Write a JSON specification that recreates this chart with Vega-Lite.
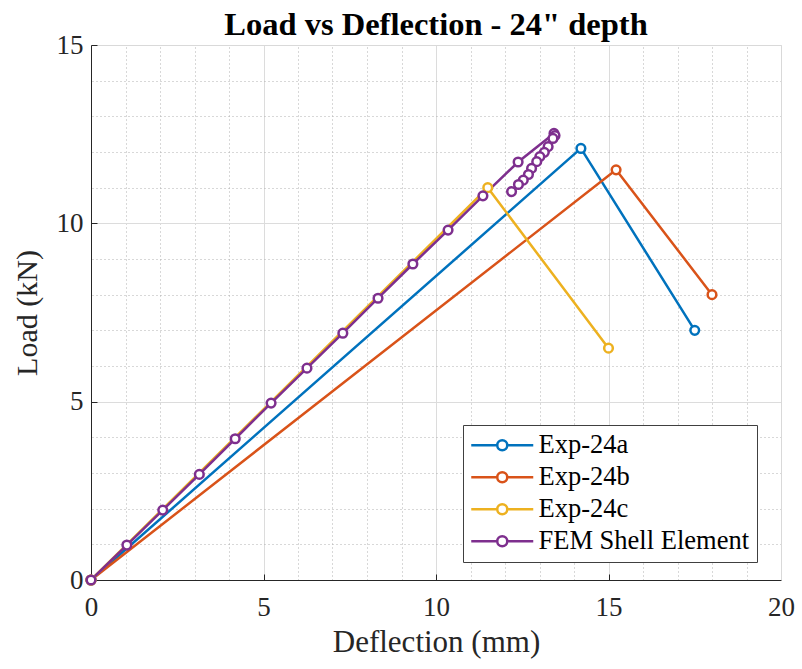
{
  "$schema": "https://vega.github.io/schema/vega-lite/v6.json",
  "width": 690,
  "height": 535,
  "autosize": {"type": "none"},
  "padding": {"left": 91, "top": 45, "right": 21, "bottom": 89},
  "background": "white",
  "title": {"text": "Load vs Deflection - 24\" depth", "font": "Liberation Serif", "fontSize": 32.5, "fontWeight": "bold", "color": "#000000", "offset": -36, "baseline": "alphabetic", "anchor": "middle"},
  "config": {
    "view": {"stroke": null},
    "font": "Liberation Serif"
  },
  "data": {"values": [
    {"s": "Exp-24a", "i": 0, "d": 0, "load": 0},
    {"s": "Exp-24a", "i": 1, "d": 14.2, "load": 12.1},
    {"s": "Exp-24a", "i": 2, "d": 17.5, "load": 7.0},
    {"s": "Exp-24b", "i": 0, "d": 0, "load": 0},
    {"s": "Exp-24b", "i": 1, "d": 15.22, "load": 11.5},
    {"s": "Exp-24b", "i": 2, "d": 18.0, "load": 8.0},
    {"s": "Exp-24c", "i": 0, "d": 0, "load": 0},
    {"s": "Exp-24c", "i": 1, "d": 11.5, "load": 11.0},
    {"s": "Exp-24c", "i": 2, "d": 15.0, "load": 6.5},
    {"s": "FEM Shell Element", "i": 0, "d": 0, "load": 0},
    {"s": "FEM Shell Element", "i": 1, "d": 1.04, "load": 0.98},
    {"s": "FEM Shell Element", "i": 2, "d": 2.08, "load": 1.96},
    {"s": "FEM Shell Element", "i": 3, "d": 3.14, "load": 2.96},
    {"s": "FEM Shell Element", "i": 4, "d": 4.18, "load": 3.96},
    {"s": "FEM Shell Element", "i": 5, "d": 5.22, "load": 4.96},
    {"s": "FEM Shell Element", "i": 6, "d": 6.26, "load": 5.94},
    {"s": "FEM Shell Element", "i": 7, "d": 7.3, "load": 6.92},
    {"s": "FEM Shell Element", "i": 8, "d": 8.32, "load": 7.9},
    {"s": "FEM Shell Element", "i": 9, "d": 9.33, "load": 8.86},
    {"s": "FEM Shell Element", "i": 10, "d": 10.35, "load": 9.81},
    {"s": "FEM Shell Element", "i": 11, "d": 11.36, "load": 10.77},
    {"s": "FEM Shell Element", "i": 12, "d": 12.38, "load": 11.72},
    {"s": "FEM Shell Element", "i": 13, "d": 13.42, "load": 12.52},
    {"s": "FEM Shell Element", "i": 14, "d": 13.45, "load": 12.46},
    {"s": "FEM Shell Element", "i": 15, "d": 13.39, "load": 12.38},
    {"s": "FEM Shell Element", "i": 16, "d": 13.25, "load": 12.15},
    {"s": "FEM Shell Element", "i": 17, "d": 13.14, "load": 11.99},
    {"s": "FEM Shell Element", "i": 18, "d": 13.01, "load": 11.87},
    {"s": "FEM Shell Element", "i": 19, "d": 12.92, "load": 11.73},
    {"s": "FEM Shell Element", "i": 20, "d": 12.77, "load": 11.54},
    {"s": "FEM Shell Element", "i": 21, "d": 12.68, "load": 11.37},
    {"s": "FEM Shell Element", "i": 22, "d": 12.53, "load": 11.21},
    {"s": "FEM Shell Element", "i": 23, "d": 12.39, "load": 11.09},
    {"s": "FEM Shell Element", "i": 24, "d": 12.19, "load": 10.89}
  ]},
  "resolve": {"axis": {"x": "independent", "y": "independent"}},
  "layer": [
    {
      "mark": {"type": "point", "opacity": 0},
      "encoding": {
        "x": {"field": "d", "type": "quantitative", "scale": {"domain": [0, 20], "nice": false},
          "axis": {"orient": "top", "values": [1,2,3,4,6,7,8,9,11,12,13,14,16,17,18,19], "labels": false, "ticks": false, "title": null, "domain": true, "domainColor": "#d9d9d9", "domainWidth": 1, "grid": true, "gridDash": [1, 3], "gridColor": "#b0b0b0", "gridWidth": 1}},
        "y": {"field": "load", "type": "quantitative", "scale": {"domain": [0, 15], "nice": false},
          "axis": {"orient": "right", "values": [1,2,3,4,6,7,8,9,11,12,13,14], "labels": false, "ticks": false, "title": null, "domain": true, "domainColor": "#d9d9d9", "domainWidth": 1, "grid": true, "gridDash": [1, 3], "gridColor": "#b0b0b0", "gridWidth": 1}}
      }
    },
    {
      "mark": {"type": "line", "strokeWidth": 2.5, "point": {"filled": false, "size": 75, "strokeWidth": 2.5, "fill": "white"}},
      "encoding": {
        "x": {"field": "d", "type": "quantitative", "scale": {"domain": [0, 20], "nice": false},
          "axis": {"orient": "bottom", "values": [0, 5, 10, 15, 20], "title": "Deflection (mm)", "titleFont": "Liberation Serif", "titleFontSize": 31, "titleFontWeight": "normal", "titleColor": "#262626", "titlePadding": 7,
            "labelFont": "Liberation Serif", "labelFontSize": 27, "labelColor": "#262626", "labelPadding": 20, "labelFlush": false,
            "domainColor": "#262626", "domainWidth": 1, "ticks": true, "tickSize": -6, "tickColor": "#262626",
            "grid": true, "gridColor": "#dcdcdc", "gridWidth": 1}},
        "y": {"field": "load", "type": "quantitative", "scale": {"domain": [0, 15], "nice": false},
          "axis": {"orient": "left", "values": [0, 5, 10, 15], "title": "Load (kN)", "titleFont": "Liberation Serif", "titleFontSize": 30, "titleFontWeight": "normal", "titleColor": "#262626", "titlePadding": 14,
            "labelFont": "Liberation Serif", "labelFontSize": 27, "labelColor": "#262626", "labelPadding": 14, "labelFlush": false,
            "domainColor": "#262626", "domainWidth": 1, "ticks": true, "tickSize": -6, "tickColor": "#262626",
            "grid": true, "gridColor": "#dcdcdc", "gridWidth": 1}},
        "color": {"field": "s", "type": "nominal",
          "scale": {"domain": ["Exp-24a", "Exp-24b", "Exp-24c", "FEM Shell Element"], "range": ["#0072BD", "#D95319", "#EDB120", "#7E2F8E"]},
          "legend": {"title": null, "orient": "none", "legendX": 372, "legendY": 380,
            "symbolType": "M-3.1,0L-0.5,0M0.5,0L3.1,0M-0.5,0A0.5,0.5,0,1,1,0.5,0A0.5,0.5,0,1,1,-0.5,0",
            "symbolSize": 400, "symbolStrokeWidth": 2.5, "symbolFillColor": "white", "symbolOffset": 19,
            "labelFont": "Liberation Serif", "labelFontSize": 26.5, "labelColor": "#000000", "labelOffset": 23, "labelLimit": 400,
            "rowPadding": 5, "padding": 7, "strokeColor": "#404040", "fillColor": "white", "cornerRadius": 0}},
        "order": {"field": "i", "type": "quantitative"}
      }
    }
  ]
}
